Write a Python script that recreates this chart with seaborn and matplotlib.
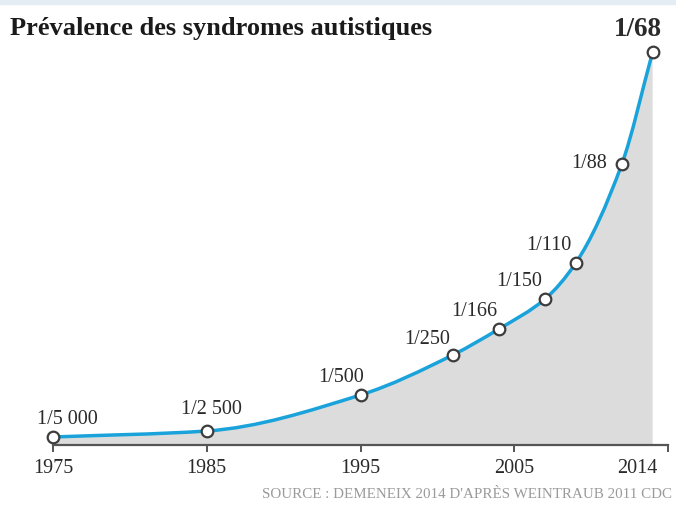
import numpy as np
import matplotlib
matplotlib.use("Agg")
import matplotlib.pyplot as plt
from matplotlib.path import Path
from matplotlib.patches import PathPatch, Rectangle
import seaborn as sns
import pandas as pd

# ---- data ----
years = [1975, 1985, 1995, 2001, 2004, 2007, 2009, 2012, 2014]
# height of each point above the axis (chart units, as drawn)
heights = [8, 14, 50, 90, 116, 146, 182, 281, 393]
labels = ["1/5 000", "1/2 500", "1/500", "1/250", "1/166", "1/150", "1/110", "1/88", "1/68"]
tick_years = [1975, 1985, 1995, 2005, 2013, 2015]
tick_labels = ["1975", "1985", "1995", "2005", "2014", ""]
title = "Prévalence des syndromes autistiques"
source = "SOURCE : DEMENEIX 2014 D'APRÈS WEINTRAUB 2011 CDC"

df = pd.DataFrame({"year": years, "height": heights, "label": labels})

sns.set_style("white")
plt.rcParams["font.family"] = ["Liberation Serif", "DejaVu Serif"]

W, H = 676, 508
fig = plt.figure(figsize=(W / 100, H / 100), dpi=100)
ax = fig.add_axes([53 / W, 63 / H, 615 / W, 400 / H])
ax.set_xlim(1975, 2015)
ax.set_ylim(0, 400)

# light strip at the very top of the page
fig.patches.append(Rectangle((0, 1 - 4 / H), 1, 4 / H, transform=fig.transFigure,
                             color="#e4edf4", zorder=0))

# ---- smooth curve (monotone cubic Hermite -> Bezier) through the data points ----
x = np.asarray(df["year"], float)
y = np.asarray(df["height"], float)
h = np.diff(x)
d = np.diff(y) / h
m = np.zeros_like(y)
m[0], m[-1] = d[0], d[-1]
for i in range(1, len(x) - 1):
    if d[i - 1] * d[i] > 0:
        w1 = 2 * h[i] + h[i - 1]
        w2 = h[i] + 2 * h[i - 1]
        m[i] = (w1 + w2) / (w1 / d[i - 1] + w2 / d[i])
verts = [(x[0], y[0])]
codes = [Path.MOVETO]
for i in range(len(x) - 1):
    verts += [(x[i] + h[i] / 3, y[i] + m[i] * h[i] / 3),
              (x[i + 1] - h[i] / 3, y[i + 1] - m[i + 1] * h[i] / 3),
              (x[i + 1], y[i + 1])]
    codes += [Path.CURVE4] * 3

fill_verts = [(x[0], 0)] + verts + [(x[-1], 0), (x[0], 0)]
fill_codes = [Path.MOVETO, Path.LINETO] + codes[1:] + [Path.LINETO, Path.CLOSEPOLY]
ax.add_patch(PathPatch(Path(fill_verts, fill_codes), facecolor="#dcdcdc",
                       edgecolor="none", zorder=1))
ax.add_patch(PathPatch(Path(verts, codes), facecolor="none", edgecolor="#1aa3db",
                       lw=2.5, zorder=2, capstyle="round"))

sns.scatterplot(data=df, x="year", y="height", ax=ax, s=70, color="white",
                edgecolor="#3c3c3c", linewidth=1.6, zorder=3, clip_on=False)

# ---- point labels ----
offsets = [(14, 17), (5, 21), (-19, 17), (-26, 15), (-25, 17), (-26, 18), (-27, 17), (-33, 0), (-15, 23)]
for (xx, yy, lab), (dx, dy) in zip(zip(x, y, labels), offsets):
    bold = lab == "1/68"
    ax.annotate(lab, (xx, yy), xytext=(dx, dy), textcoords="offset pixels",
                ha="center", va="center", fontsize=19.5 if bold else 14.5,
                fontweight="bold" if bold else "normal", color="#2a2a2a",
                annotation_clip=False, zorder=4)

# ---- axes styling ----
for s in ["top", "right", "left"]:
    ax.spines[s].set_visible(False)
ax.spines["bottom"].set_color("#555555")
ax.spines["bottom"].set_linewidth(1.6)
ax.spines["bottom"].set_zorder(5)
ax.set_yticks([])
ax.set_xticks(tick_years)
ax.set_xticklabels(tick_labels)
ax.tick_params(axis="x", direction="out", length=5, width=1.4, color="#555555",
               pad=5, labelsize=14.5, labelcolor="#2a2a2a", bottom=True)
ax.xaxis.get_major_ticks()[4].tick1line.set_visible(False)
ax.set_xlabel("")
ax.set_ylabel("")
ax.set_facecolor("none")

fig.text(10 / W, 1 - 28 / H, title, fontsize=19, fontweight="bold",
         color="#1a1a1a", ha="left", va="center")
fig.text(672 / W, 1 - 495 / H, source, fontsize=10.8, color="#9a9a9a",
         ha="right", va="center")

fig.savefig("out.png", dpi=100)
